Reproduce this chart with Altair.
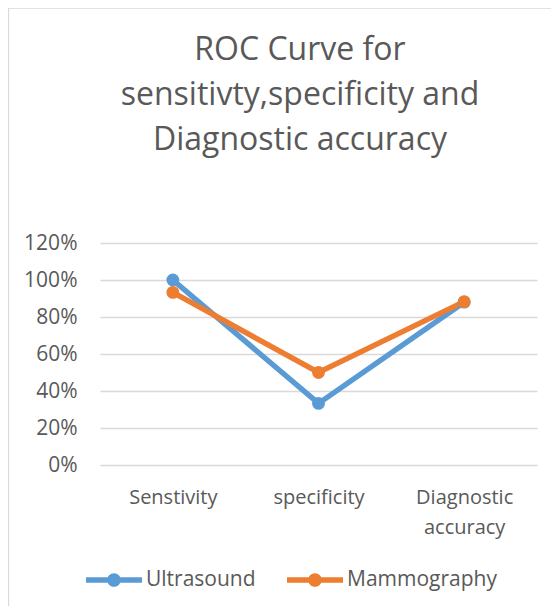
import altair as alt
import pandas as pd

categories = ["Senstivity", "specificity", "Diagnostic accuracy"]
series = ["Ultrasound", "Mammography"]
ultrasound = [1.00, 0.333, 0.88]
mammography = [0.933, 0.50, 0.883]
y_ticks = [0, 0.2, 0.4, 0.6, 0.8, 1.0, 1.2]
title_lines = ["ROC Curve for", "sensitivty,specificity and", "Diagnostic accuracy"]

rows = []
for s, vals in zip(series, [ultrasound, mammography]):
    for c, v in zip(categories, vals):
        rows.append({"category": c, "series": s, "value": v})
df = pd.DataFrame(rows)

FONT = "Open Sans"
TXT = "#595959"
GRID = "#D9D9D9"

x = alt.X("category:N", sort=categories, title=None,
          scale=alt.Scale(paddingInner=0, paddingOuter=0.5),
          axis=alt.Axis(labelAngle=0, labelExpr="split(datum.label, ' ')",
                        labelFontSize=20, labelColor=TXT, labelFont=FONT,
                        labelPadding=22, labelLineHeight=30, ticks=False,
                        domain=False, grid=False))
y = alt.Y("value:Q", title=None,
          scale=alt.Scale(domain=[0, 1.2], nice=False),
          axis=alt.Axis(values=y_ticks, format=".0%", labelFontSize=21,
                        labelColor=TXT, labelFont=FONT, labelPadding=23,
                        ticks=False, domain=False, grid=True, gridColor=GRID,
                        gridWidth=1.3))
cscale = alt.Scale(domain=series, range=["#5B9BD5", "#ED7D31"])

one = pd.DataFrame({"a": [0]})
frame_left = alt.Chart(one).mark_rule(stroke=GRID, strokeWidth=1.3).encode(
    x=alt.value(-91.5), y=alt.value(-235), y2=alt.value(363))
frame_top = alt.Chart(one).mark_rule(stroke=GRID, strokeWidth=1.3).encode(
    x=alt.value(-91.5), x2=alt.value(451), y=alt.value(-235))

lines = alt.Chart(df).mark_line(strokeWidth=5.5).encode(
    x=x, y=y, color=alt.Color("series:N", sort=series, scale=cscale, legend=None),
    order=alt.Order("series:N"))

legend_symbol = ("M-1,-0.1 H1 V0.1 H-1 Z "
                 "M0.245,0 A0.245,0.245 0 1,1 -0.245,0 A0.245,0.245 0 1,1 0.245,0 Z")

points = alt.Chart(df).mark_point(filled=True, size=165, opacity=1).encode(
    x=x, y=y,
    color=alt.Color("series:N", sort=series, scale=cscale,
                    legend=alt.Legend(
                        title=None, orient="none", direction="horizontal",
                        legendX=-14, legendY=309,
                        symbolType=legend_symbol,
                        symbolSize=3136, symbolStrokeWidth=0, symbolOpacity=1,
                        labelFontSize=21, labelColor=TXT, labelFont=FONT,
                        labelOffset=4, columnPadding=31)))

chart = alt.layer(frame_left, frame_top, lines, points).resolve_legend(
    color="independent"
).properties(
    width=437, height=222,
    autosize=alt.AutoSizeParams(type="none"),
    padding={"left": 92, "top": 235, "right": 14, "bottom": 141},
    title=alt.Title(title_lines, fontSize=32, font=FONT, color=TXT,
                    fontWeight="normal", lineHeight=45, anchor="middle",
                    dx=-18.5, offset=-150),
).configure_view(stroke=None)

chart.save("out.html", embed_options={"renderer": "svg", "actions": False})
